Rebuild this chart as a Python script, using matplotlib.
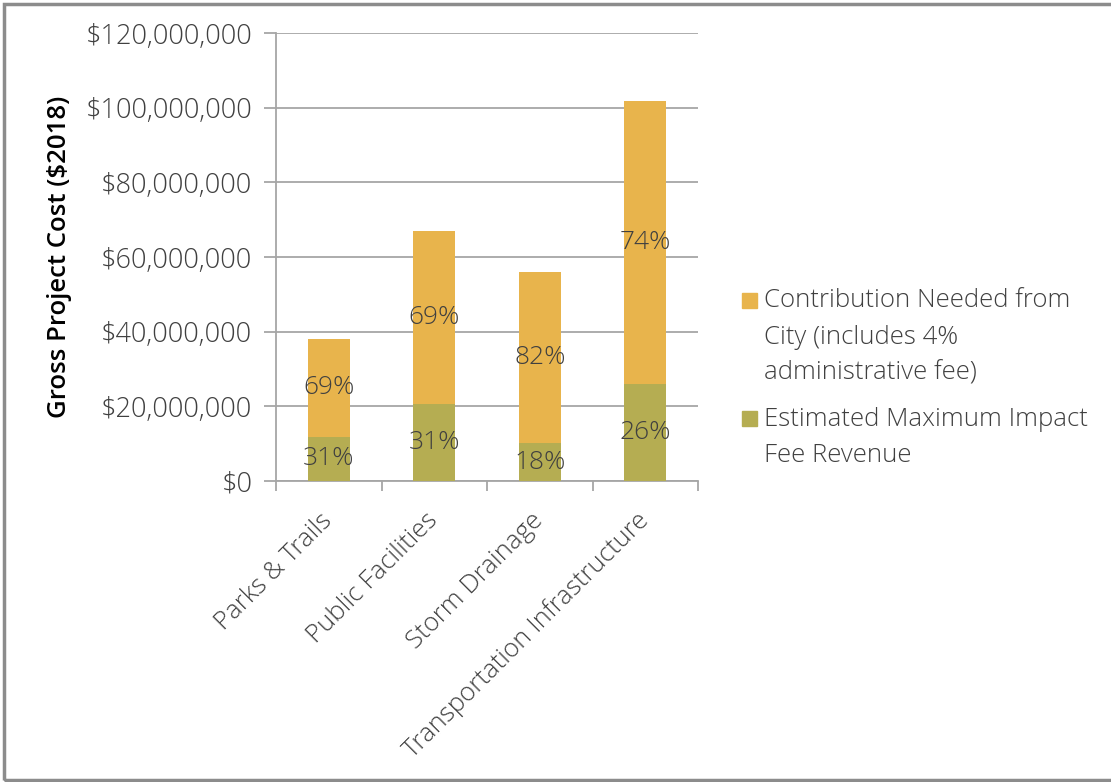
import matplotlib
matplotlib.use('Agg')
import matplotlib.pyplot as plt
import matplotlib.ticker as mticker
from matplotlib.patches import Rectangle
import numpy as np

plt.rcParams['font.family'] = ['Open Sans', 'DejaVu Sans']
plt.rcParams['font.weight'] = 'light'

# project categories and cost split ($2018)
categories = ['Parks & Trails', 'Public Facilities', 'Storm Drainage',
              'Transportation Infrastructure']
impact_fee = [11.8e6, 20.6e6, 10.1e6, 26.0e6]
city_share = [26.3e6, 46.3e6, 46.0e6, 75.7e6]
legend_labels = ['Contribution Needed from\nCity (includes 4%\nadministrative fee)',
                 'Estimated Maximum Impact\nFee Revenue']

c_city = '#E8B44C'
c_fee = '#B5AD52'
txt = '#404040'
grid_c = '#A6A6A6'

fig = plt.figure(figsize=(11.11, 7.82), dpi=100)
ax = fig.add_axes([276 / 1111, 1 - 481 / 782, 422 / 1111, 448 / 782])

x = np.arange(len(categories))
fee = np.array(impact_fee)
city = np.array(city_share)
total = fee + city

ax.bar(x, fee, 0.4, color=c_fee, zorder=3)
ax.bar(x, city, 0.4, bottom=fee, color=c_city, zorder=3)

# percent of total, centred in each segment
for i in range(len(x)):
    ax.text(x[i], fee[i] / 2, '{:.0f}%'.format(fee[i] / total[i] * 100),
            ha='center', va='center', fontsize=19, color=txt, zorder=4)
    ax.text(x[i], fee[i] + city[i] / 2, '{:.0f}%'.format(city[i] / total[i] * 100),
            ha='center', va='center', fontsize=19, color=txt, zorder=4)

ax.set_xlim(-0.5, 3.5)
ax.set_ylim(0, 120e6)
ax.set_yticks(np.arange(0, 120e6 + 1, 20e6))
ax.yaxis.set_major_formatter(mticker.FuncFormatter(lambda v, p: '${:,.0f}'.format(v)))
ax.yaxis.grid(True, color=grid_c, linewidth=1.3, zorder=0)
ax.set_axisbelow(True)

ax.set_xticks(x)
ax.set_xticklabels(categories, rotation=45, ha='right', va='center',
                   rotation_mode='anchor', fontsize=18.5, color=txt)
ax.set_xticks(np.arange(-0.5, 4, 1), minor=True)
ax.tick_params(axis='x', which='major', length=0, pad=26)
ax.tick_params(axis='x', which='minor', length=7, color=grid_c, width=1.3)
ax.tick_params(axis='y', length=9, color=grid_c, width=1.3, labelsize=19.5,
               labelcolor=txt, pad=8)

for s in ['top', 'right']:
    ax.spines[s].set_visible(False)
for s in ['left', 'bottom']:
    ax.spines[s].set_color(grid_c)
    ax.spines[s].set_linewidth(1.3)

ax.set_ylabel('Gross Project Cost ($2018)', fontsize=18.5, fontweight='semibold',
              color='black')
ax.yaxis.set_label_coords(-0.483, 0.5)

# legend drawn by hand so the swatch sits on the first line
leg_base = [308, 426]
pitch = 36
for lab, col, yb in zip(legend_labels, [c_city, c_fee], leg_base):
    fig.patches.append(Rectangle((742 / 1111, 1 - yb / 782), 15 / 1111, 15 / 782,
                                 transform=fig.transFigure, color=col))
    last = yb + pitch * lab.count('\n')
    fig.text(764 / 1111, 1 - last / 782, lab, ha='left', va='baseline',
             fontsize=18.5, color=txt, linespacing=1.6)

# outer frame
fig.patches.append(Rectangle((4 / 1111, 2 / 782), 1.2, 776 / 782, transform=fig.transFigure,
                             fill=False, edgecolor='#8C8C8C', linewidth=2.5))

fig.savefig('out.png', dpi=100)
